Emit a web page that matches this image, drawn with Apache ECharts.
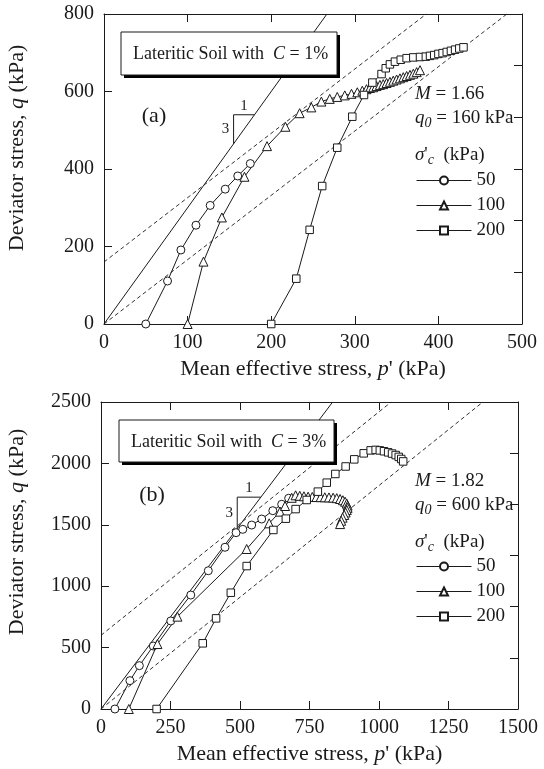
<!DOCTYPE html>
<html>
<head>
<meta charset="utf-8">
<script src="https://cdn.jsdelivr.net/npm/echarts@6/dist/echarts.min.js"></script>
<style>
  html, body { margin: 0; padding: 0; background: #fff; }
  #chart { width: 544px; height: 769px; }
</style>
</head>
<body>
<div id="chart"></div>
<script>
// Effective stress paths (p', q) of cemented lateritic soil
// (a) cement content C = 1 %, (b) C = 3 %; series per confining stress σ'c.

const confiningStresses = ['50', '100', '200'];
const markerShapes = ['circle', 'triangle', 'rect'];
const markerSizes = [8, 9, 7.5];

// (a) C = 1 %  — [p' (kPa), q (kPa)]
const pathA50 = [[50,0],[76,111],[92,191],[110,255],[127,306],[145,348],[160,382],[175,414]];
const pathA100 = [[100,0],[119,161],[141,275],[168,380],[195,459],[217,509],[234,544],[248,559],
  [260,574],[270,581],[279,586],[288,590],[296,594],[303,598],[309,602],[314,606],[318,609],
  [322,611],[326,614],[330,617],[334,619],[338,622],[342,625],[346,628],[350,631],[354,634],
  [358,637],[362,640],[366,643],[370,646],[374,650],[378,655]];
const pathA200 = [[200,0],[230,117],[246,243],[261,356],[279,455],[297,535],[311,591],[321,623],
  [332,645],[337,660],[342,670],[348,677],[355,682],[362,686],[370,688],[378,689],[385,690],
  [390,692],[395,694],[400,697],[405,699],[410,702],[415,705],[420,708],[425,711],[430,714]];

// (b) C = 3 %
const pathB50 = [[50,0],[104,231],[138,353],[188,513],[251,717],[323,928],[386,1126],[446,1317],
  [486,1436],[510,1463],[542,1498],[578,1547],[618,1615],[650,1667],[675,1716]];
const pathB100 = [[100,0],[203,529],[275,752],[524,1303],[605,1512],[644,1607],[662,1653],[686,1720],
  [700,1740],[715,1736],[730,1732],[745,1729],[760,1727],[775,1726],[790,1725],[805,1724],
  [820,1723],[835,1721],[848,1717],[860,1710],[870,1700],[878,1688],[884,1673],[887,1656],
  [887,1638],[884,1620],[880,1600],[875,1580],[869,1558],[864,1533],[860,1506]];
const pathB200 = [[200,0],[366,535],[414,738],[467,947],[524,1164],[620,1458],[665,1550],[700,1628],
  [740,1702],[780,1770],[812,1843],[843,1914],[880,1975],[911,2033],[945,2082],[970,2106],
  [988,2110],[1003,2106],[1018,2099],[1033,2090],[1047,2080],[1060,2068],[1071,2053],
  [1080,2036],[1087,2016]];

// Critical state lines q = q0 + M·p' and the parallel line through the origin
const critA = { M: 1.66, q0: 160 };
const critB = { M: 1.82, q0: 600 };

// Stress path slope of a drained triaxial test (dq/dp' = 3)
const pathSlope = 3;
// slope triangle: corner p' and horizontal leg length
const slopeTriA = { p: 155, dp: 25 };
const slopeTriB = { p: 490, dp: 85 };

// Axis ranges and tick steps
const pTicksA = [0, 500, 100];
const qTicksA = [0, 800, 200];
const pTicksB = [0, 1500, 250];
const qTicksB = [0, 2500, 500];

const FONT = 'Liberation Serif';
const INK = '#1a1a1a';

const grids = [
  { left: 104, top: 14, width: 418, height: 310 },
  { left: 101, top: 402, width: 417, height: 307 }
];

function frameAxis(gridIndex, range, isX, position, labels) {
  return {
    type: 'value', gridIndex, position,
    min: range[0], max: range[1], interval: range[2],
    axisLine: { show: true, onZero: false, lineStyle: { color: INK, width: 1 } },
    axisTick: { show: true, inside: true, length: 8, lineStyle: { color: INK, width: 1 } },
    splitLine: { show: false },
    axisLabel: {
      show: labels, margin: isX ? 9 : 10,
      fontFamily: FONT, fontSize: 20, color: INK,
      showMinLabel: true, showMaxLabel: true,
      formatter: v => String(v)
    }
  };
}

const xAxes = [
  frameAxis(0, pTicksA, true, 'bottom', true),
  frameAxis(0, pTicksA, true, 'top', false),
  frameAxis(1, pTicksB, true, 'bottom', true),
  frameAxis(1, pTicksB, true, 'top', false)
];
const yAxes = [
  frameAxis(0, qTicksA, false, 'left', true),
  frameAxis(0, [0, 6, 1], false, 'right', false),
  frameAxis(1, qTicksB, false, 'left', true),
  frameAxis(1, [0, 6, 1], false, 'right', false)
];

function refLine(name, axisIdx, data, dashed) {
  return {
    name, type: 'line', xAxisIndex: axisIdx, yAxisIndex: axisIdx,
    data, symbol: 'none', silent: true, z: 1,
    lineStyle: { color: INK, width: dashed ? 0.9 : 1, type: dashed ? [4, 3] : 'solid' }
  };
}

function critLines(axisIdx, crit, pRange, qRange) {
  const pMax = pRange[1], qMax = qRange[1];
  const endUpper = Math.min(pMax, (qMax - crit.q0) / crit.M);
  const endLower = Math.min(pMax, qMax / crit.M);
  return [
    refLine('csl', axisIdx, [[0, crit.q0], [endUpper, crit.q0 + crit.M * endUpper]], true),
    refLine('csl0', axisIdx, [[0, 0], [endLower, crit.M * endLower]], true)
  ];
}

function slopeLines(axisIdx, tri, pRange, qRange) {
  const end = Math.min(pRange[1], qRange[1] / pathSlope);
  const qc = pathSlope * tri.p;
  const qt = pathSlope * (tri.p + tri.dp);
  return [
    refLine('esp', axisIdx, [[0, 0], [end, pathSlope * end]], false),
    refLine('tri', axisIdx, [[tri.p, qc], [tri.p, qt], [tri.p + tri.dp, qt]], false)
  ];
}

function pathSeries(axisIdx, paths) {
  return paths.map((d, i) => ({
    name: confiningStresses[i], type: 'line',
    xAxisIndex: axisIdx, yAxisIndex: axisIdx,
    data: d, showAllSymbol: true,
    symbol: markerShapes[i], symbolSize: markerSizes[i],
    lineStyle: { color: INK, width: 1 },
    itemStyle: { color: '#fff', borderColor: INK, borderWidth: 1 },
    z: 3
  }));
}

const series = [
  ...critLines(0, critA, pTicksA, qTicksA),
  ...slopeLines(0, slopeTriA, pTicksA, qTicksA),
  ...pathSeries(0, [pathA50, pathA100, pathA200]),
  ...critLines(2, critB, pTicksB, qTicksB),
  ...slopeLines(2, slopeTriB, pTicksB, qTicksB),
  ...pathSeries(2, [pathB50, pathB100, pathB200])
];

function legendAt(top) {
  return {
    data: confiningStresses, orient: 'vertical', left: 416, top,
    padding: 0, itemWidth: 55, itemHeight: 10, itemGap: 5,
    selectedMode: false,
    lineStyle: { width: 1 },
    textStyle: { fontFamily: FONT, fontSize: 19, color: INK, lineHeight: 20 }
  };
}

const rich = {
  n: { fontFamily: FONT, fontSize: 19, color: INK, lineHeight: 24 },
  i: { fontFamily: FONT, fontSize: 19, fontStyle: 'italic', color: INK, lineHeight: 24 },
  s: { fontFamily: FONT, fontSize: 14, fontStyle: 'italic', color: INK, lineHeight: 12, verticalAlign: 'bottom' },
  bn: { fontFamily: FONT, fontSize: 18, color: INK, lineHeight: 22 },
  bi: { fontFamily: FONT, fontSize: 18, fontStyle: 'italic', color: INK, lineHeight: 22 },
  tn: { fontFamily: FONT, fontSize: 22, color: INK, lineHeight: 26 },
  ti: { fontFamily: FONT, fontSize: 22, fontStyle: 'italic', color: INK, lineHeight: 26 }
};

function txt(x, y, text, align, rotation) {
  return {
    type: 'text', x, y, rotation: rotation || 0, silent: true, z: 10,
    style: { text, rich, align: align || 'left', verticalAlign: 'middle', fill: INK }
  };
}

function panelGraphics(g, box, letter, crit, sc, titleY) {
  const els = [
    { type: 'rect', silent: true, z: 8, shape: { x: box.x + 3, y: box.y + 3, width: box.w, height: box.h }, style: { fill: '#000' } },
    { type: 'rect', silent: true, z: 9, shape: { x: box.x, y: box.y, width: box.w, height: box.h }, style: { fill: '#fff', stroke: INK, lineWidth: 1 } },
    txt(box.x + 12, box.y + box.h / 2 + 1, '{bn|Lateritic Soil with  }{bi|C}{bn| = ' + box.c + '}'),
    { type: 'text', x: letter.x, y: letter.y, silent: true, z: 10,
      style: { text: letter.t, font: '22px "' + FONT + '"', fill: INK, align: 'center', verticalAlign: 'middle' } },
    txt(415, crit.y, '{i|M}{n| = ' + crit.M.toFixed(2) + '}'),
    txt(415, crit.y + 24, '{i|q}{s|0}{n| = ' + crit.q0 + ' kPa}'),
    txt(415, sc, '{i|σ}{n|\'}{s|c}{n|  (kPa)}'),
    txt(g.left + g.width / 2, g.top + g.height + 45, '{tn|Mean effective stress, }{ti|p}{tn|\' (kPa)}', 'center'),
    txt(17, titleY, '{tn|Deviator stress, }{ti|q}{tn| (kPa)}', 'center', Math.PI / 2)
  ];
  return els;
}

const chart = echarts.init(document.getElementById('chart'), null, { renderer: 'canvas' });

chart.setOption({
  animation: false,
  backgroundColor: '#fff',
  textStyle: { fontFamily: FONT },
  grid: grids.map(g => Object.assign({ outerBoundsMode: 'none', containLabel: false }, g)),
  xAxis: xAxes,
  yAxis: yAxes,
  legend: [legendAt(170.5), legendAt(556.5)],
  series,
  graphic: [
    ...panelGraphics(grids[0], { x: 121, y: 32, w: 216, h: 43, c: '1%' }, { x: 154, y: 116, t: '(a)' },
      { M: critA.M, q0: critA.q0, y: 94 }, 155, 148),
    ...panelGraphics(grids[1], { x: 119, y: 420, w: 215, h: 42, c: '3%' }, { x: 152, y: 495, t: '(b)' },
      { M: critB.M, q0: critB.q0, y: 481 }, 542, 532)
  ]
});

// "1" and "3" beside the slope triangles, placed from the triangle's data coordinates
function slopeLabels(axisIdx, tri) {
  const qt = pathSlope * (tri.p + tri.dp);
  const qc = pathSlope * tri.p;
  const top = chart.convertToPixel({ xAxisIndex: axisIdx, yAxisIndex: axisIdx }, [tri.p + tri.dp / 2, qt]);
  const side = chart.convertToPixel({ xAxisIndex: axisIdx, yAxisIndex: axisIdx }, [tri.p, (qc + qt) / 2]);
  const st = { font: '15px "' + FONT + '"', fill: INK, align: 'center', verticalAlign: 'middle' };
  return [
    { type: 'text', x: top[0], y: top[1] - 9, silent: true, style: Object.assign({ text: '1' }, st) },
    { type: 'text', x: side[0] - 8, y: side[1], silent: true, style: Object.assign({ text: '3' }, st) }
  ];
}

const baseGraphic = chart.getOption().graphic[0].elements;
chart.setOption({
  graphic: [...baseGraphic, ...slopeLabels(0, slopeTriA), ...slopeLabels(2, slopeTriB)]
}, { replaceMerge: ['graphic'] });
</script>
</body>
</html>
